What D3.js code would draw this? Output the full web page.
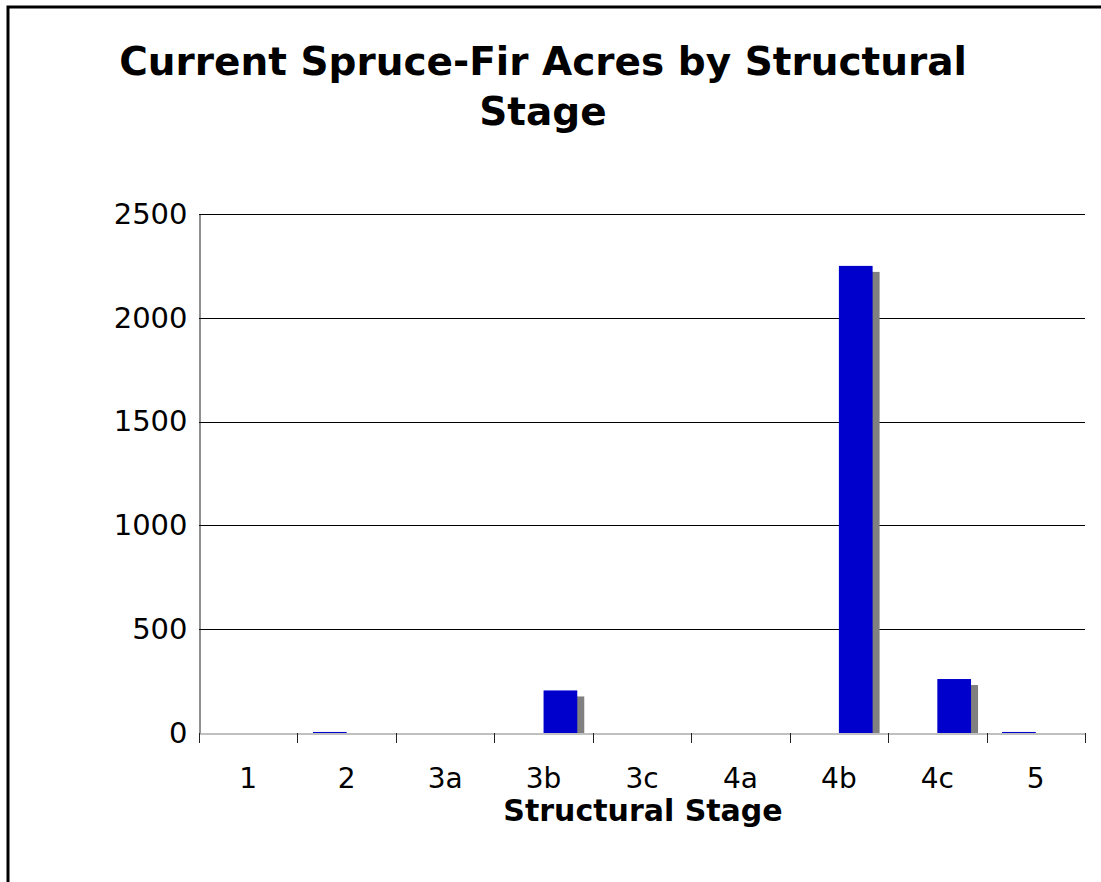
<!DOCTYPE html>
<html>
<head>
<meta charset="utf-8">
<script src="https://cdn.jsdelivr.net/npm/d3@7"></script>
<style>
  html, body { margin: 0; padding: 0; background: #fff; }
  svg { display: block; }
</style>
</head>
<body>
<div id="chart"></div>
<script>
// chart data
const categories = ['1', '2', '3a', '3b', '3c', '4a', '4b', '4c', '5'];
const seriesNames = ['left', 'right'];
const leftValues = [0, 5, 0, 0, 0, 0, 0, 0, 5];
const rightValues = [0, 0, 0, 205, 0, 0, 2250, 260, 0];
const yTicks = [0, 500, 1000, 1500, 2000, 2500];

const width = 1101, height = 882;
const plot = { left: 199, right: 1085, top: 214, bottom: 733 };
const font = 'DejaVu Sans, Verdana, sans-serif';

const svg = d3.select('#chart')
  .append('svg')
  .attr('width', width)
  .attr('height', height);

// outer chart frame (runs off the right and bottom edges)
svg.append('rect')
  .attr('x', 8).attr('y', 7)
  .attr('width', 1200).attr('height', 1000)
  .attr('fill', 'white')
  .attr('stroke', 'black')
  .attr('stroke-width', 3);

// title
const title = svg.append('text')
  .attr('text-anchor', 'middle')
  .style('font-family', font)
  .style('font-weight', 'bold')
  .style('font-size', '39px');
title.append('tspan').attr('x', 543).attr('y', 75).text('Current Spruce-Fir Acres by Structural');
title.append('tspan').attr('x', 543).attr('y', 125).text('Stage');

const x = d3.scaleBand()
  .domain(categories)
  .range([plot.left, plot.right])
  .padding(0);

const xInner = d3.scaleBand()
  .domain(seriesNames)
  .range([0, x.bandwidth()])
  .paddingInner(0)
  .paddingOuter(0.46);

const y = d3.scaleLinear()
  .domain([0, 2500])
  .range([plot.bottom, plot.top]);

// gridlines
svg.append('g')
  .selectAll('line')
  .data(yTicks.filter(d => d > 0))
  .enter()
  .append('line')
  .attr('x1', plot.left).attr('x2', plot.right)
  .attr('y1', d => Math.round(y(d)) + 0.5)
  .attr('y2', d => Math.round(y(d)) + 0.5)
  .attr('stroke', 'black')
  .attr('stroke-width', 1);

// bars with drop shadow
const rows = [];
categories.forEach((c, i) => {
  rows.push({ cat: c, series: 'left', value: leftValues[i] });
  rows.push({ cat: c, series: 'right', value: rightValues[i] });
});
const bars = rows.filter(d => d.value > 0);

svg.append('g')
  .selectAll('rect')
  .data(bars)
  .enter()
  .append('rect')
  .attr('x', d => x(d.cat) + xInner(d.series) + 7)
  .attr('y', d => y(d.value) + 6)
  .attr('width', xInner.bandwidth())
  .attr('height', d => Math.max(0, y(0) - y(d.value) - 6))
  .attr('fill', '#808080');

svg.append('g')
  .selectAll('rect')
  .data(bars)
  .enter()
  .append('rect')
  .attr('x', d => x(d.cat) + xInner(d.series))
  .attr('y', d => y(d.value))
  .attr('width', xInner.bandwidth())
  .attr('height', d => Math.max(1, y(0) - y(d.value)))
  .attr('fill', '#0000CC');

// y axis
const yAxis = svg.append('g')
  .attr('transform', `translate(${plot.left + 0.5},0)`)
  .call(d3.axisLeft(y).tickValues(yTicks).tickFormat(d3.format('d')).tickSize(0).tickPadding(12));
yAxis.select('.domain').attr('stroke', '#222');
yAxis.selectAll('text')
  .style('font-family', font)
  .style('font-size', '29px')
  .attr('fill', 'black');

// x axis
const xAxis = svg.append('g')
  .attr('transform', `translate(0,${plot.bottom + 0.5})`)
  .call(d3.axisBottom(x).tickSize(0).tickPadding(35));
xAxis.select('.domain').attr('stroke', '#808080');
xAxis.selectAll('text')
  .style('font-family', font)
  .style('font-size', '28px')
  .attr('fill', 'black');

// category boundary ticks
svg.append('g')
  .selectAll('line')
  .data(categories.map(c => x(c)).concat([plot.right]))
  .enter()
  .append('line')
  .attr('x1', d => Math.round(d) + 0.5).attr('x2', d => Math.round(d) + 0.5)
  .attr('y1', plot.bottom).attr('y2', plot.bottom + 10)
  .attr('stroke', '#222');

// x axis title
svg.append('text')
  .attr('x', 643).attr('y', 821)
  .attr('text-anchor', 'middle')
  .style('font-family', font)
  .style('font-weight', 'bold')
  .style('font-size', '30px')
  .text('Structural Stage');
</script>
</body>
</html>
